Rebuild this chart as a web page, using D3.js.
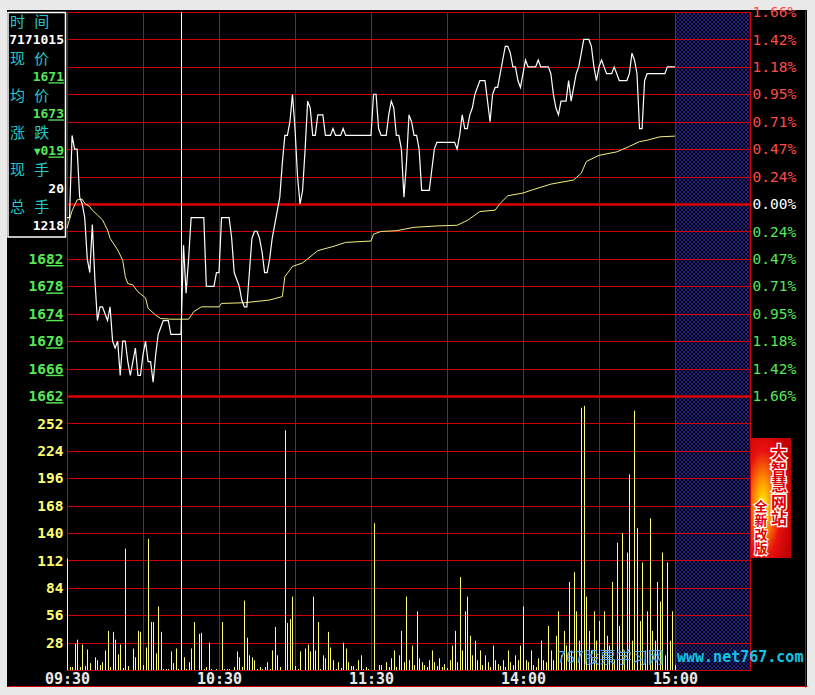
<!DOCTYPE html>
<html><head><meta charset="utf-8">
<script src="https://cdn.jsdelivr.net/npm/d3@7"></script>
<style>html,body{margin:0;padding:0;background:#e9e9e9;overflow:hidden}</style>
</head><body><svg id="c" width="815" height="695"></svg>
<script>
// ---------------- DATA ----------------
const prevClose = 1690;
const priceTicks = [1718,1714,1710,1706,1702,1698,1694,1690,1686,1682,1678,1674,1670,1666,1662];
const priceLabelTicks = [1682,1678,1674,1670,1666,1662];   // the ones not hidden by the info box
const volTicks = [252,224,196,168,140,112,84,56,28];
const gridMinutes = [0,30,60,90,120,150,180,210,240];
const timeLabelMinutes = [0,60,120,180,240];
const timeLabels = ["09:30","10:30","11:30","14:00","15:00"];
const cursorMinute = 45;
const infoLabels = ["时 间","现 价","均 价","涨 跌","现 手","总 手"];
const infoValues = ["7171015","1671","1673","019","20","1218"];
const infoKinds  = ["plain","price","price","change","plain","plain"];
const bannerMain = "大智慧网站";
const bannerSub = "全新改版";
const watermarkCN = "767股票学习网";
const watermarkURL = "www.net767.com";

// minute-by-minute last price (09:30 .. 15:00, 241 points)
const price = [
1688,1688,1700,1698,1698,1691,1690,1688,1682,1680,
1687,1679,1673,1675,1675,1674,1673,1675,1670,1669,
1670,1665,1670,1670,1667,1665,1667,1669,1665,1665,
1668,1670,1667,1667,1664,1668,1671,1672,1673,1673,
1673,1671,1671,1671,1671,1671,1684,1677,1682,1688,
1688,1688,1688,1688,1688,1678,1678,1678,1678,1680,
1680,1688,1688,1688,1688,1685,1680,1679,1678,1676,
1675,1675,1680,1685,1686,1686,1685,1683,1680,1680,
1682,1685,1687,1689,1691,1696,1700,1700,1702,1706,
1701,1694,1690,1692,1698,1705,1704,1700,1700,1703,
1703,1703,1700,1700,1700,1701,1700,1700,1700,1701,
1700,1700,1700,1700,1700,1700,1700,1700,1700,1700,
1700,1706,1706,1701,1700,1700,1700,1703,1705,1704,
1700,1700,1698,1691,1696,1703,1702,1700,1700,1698,
1692,1692,1692,1692,1695,1698,1699,1699,1699,1699,
1699,1699,1699,1699,1698,1700,1703,1701,1701,1703,
1704,1706,1707,1708,1708,1708,1705,1702,1706,1707,
1707,1709,1711,1713,1713,1712,1710,1710,1708,1707,
1709,1711,1710,1710,1710,1710,1711,1710,1710,1710,
1710,1709,1706,1704,1703,1705,1705,1705,1708,1705,
1707,1709,1710,1712,1714,1714,1714,1713,1710,1708,
1710,1711,1710,1709,1709,1709,1710,1709,1708,1708,
1708,1708,1709,1712,1711,1709,1701,1701,1708,1709,
1709,1709,1709,1709,1709,1709,1709,1710,1710,1710,
1710];

// average price line, read at its turning points
const avgMinutes = [0,2,4,6,7,9,10,12,14,16,17,20,22,23,24,26,28,31,32,35,37,41,48,50,53,60,61,70,80,82,85,86,89,93,97,99,105,110,120,121,124,130,137,146,154,158,163,169,171,174,180,184,191,200,203,205,210,217,222,226,229,234,240];
const avgValues  = [1686.5,1689,1690.6,1690.7,1690.1,1689.6,1689.1,1688.4,1687.7,1686.2,1685,1683.3,1681.8,1679.4,1678.4,1678.2,1677.2,1676.3,1674.8,1673.8,1673.3,1673.2,1673.2,1674.3,1675,1675,1675.5,1675.6,1676,1676.2,1676.5,1679.4,1680.9,1681.4,1682.6,1683.2,1683.8,1684.4,1684.6,1685.6,1686,1686.1,1686.6,1686.8,1686.9,1687.6,1688.9,1689.1,1690.1,1691.2,1691.6,1692.1,1692.9,1693.5,1694.5,1696.2,1697.1,1697.6,1698.4,1699.1,1699.3,1699.8,1699.9];

// minute volume (241 points)
const volume = [
114,3,3,27,31,3,26,4,21,7,
0,13,10,5,8,20,40,3,39,31,
16,26,2,124,4,0,22,13,40,39,
5,23,134,49,49,17,65,39,1,1,
1,19,7,22,1,30,13,1,8,22,
49,0,37,38,1,3,28,1,0,1,
0,49,1,1,1,0,3,19,13,3,
71,33,15,13,10,1,3,1,3,8,
1,20,44,15,3,0,245,48,52,75,
4,1,19,0,22,26,19,75,20,49,
1,15,12,39,23,10,1,8,2,28,
22,8,4,4,1,10,15,1,3,1,
0,150,0,5,5,0,8,3,12,20,
3,15,40,8,75,10,25,5,60,12,
8,5,3,10,20,8,4,12,3,6,
2,10,25,40,8,95,20,60,75,35,
15,30,10,20,5,15,8,3,25,10,
6,4,10,3,20,8,5,15,10,25,
65,10,8,20,5,3,12,30,10,8,
45,20,10,35,60,15,40,25,90,20,
100,60,30,268,270,75,40,20,60,30,
50,15,60,35,25,90,10,130,45,140,
20,120,200,30,265,145,50,110,20,60,
155,40,30,90,70,120,15,110,30,60,
5];

// ---------------- LAYOUT ----------------
const W = 815, H = 695;
const L = 67, R = 675, RA = 750, T = 12, MID = 396, B = 670;
const RED = "#ff4a4a", GREEN = "#55e855", YEL = "#ffff70", CYAN = "#22c8c8", GRID = "#d00000";
const NUMFONT = "'DejaVu Sans Mono', 'Liberation Mono', monospace";
const CJK = "'Noto Sans CJK SC'";

const svg = d3.select("#c");
const x = d3.scaleLinear().domain([0, 240]).range([L, R]);
const yP = d3.scaleLinear().domain([1662, 1718]).range([MID, T]);
const yV = d3.scaleLinear().domain([0, 280]).range([B, MID]);
const px = v => Math.round(v) + 0.5;

svg.append("rect").attr("width", W).attr("height", H).attr("fill", "#e9e9e9");
svg.append("rect").attr("x", 7).attr("y", 10).attr("width", 800).attr("height", 677).attr("fill", "#000");

const defs = svg.append("defs");
const pat = defs.append("pattern").attr("id", "hatch").attr("patternUnits", "userSpaceOnUse").attr("width", 4).attr("height", 4);
pat.append("path").attr("d", "M0,0L4,4M4,0L0,4").attr("stroke", "#22229a").attr("stroke-width", 0.9);
const rg = defs.append("radialGradient").attr("id", "ban").attr("cx", "0.3").attr("cy", "0.55").attr("r", "0.75");
rg.append("stop").attr("offset", "0").attr("stop-color", "#fff200");
rg.append("stop").attr("offset", "0.25").attr("stop-color", "#ff9a00");
rg.append("stop").attr("offset", "0.6").attr("stop-color", "#e81010");
rg.append("stop").attr("offset", "1").attr("stop-color", "#c00000");

svg.append("rect").attr("x", R).attr("y", T).attr("width", RA - R).attr("height", B - T).attr("fill", "url(#hatch)");

// horizontal grid
const hGrid = svg.append("g");
hGrid.selectAll("line.p").data(priceTicks).join("line").attr("class", "p")
  .attr("x1", L).attr("x2", RA).attr("y1", d => px(yP(d))).attr("y2", d => px(yP(d)))
  .attr("stroke", d => (d === prevClose || d === 1662) ? "#dc0000" : GRID)
  .attr("stroke-width", d => (d === prevClose || d === 1662) ? 2.5 : 1);
hGrid.selectAll("line.v").data(volTicks).join("line").attr("class", "v")
  .attr("x1", L).attr("x2", RA).attr("y1", d => px(yV(d))).attr("y2", d => px(yV(d)))
  .attr("stroke", GRID).attr("stroke-width", 1);
// vertical grid
svg.append("g").selectAll("line").data(gridMinutes).join("line")
  .attr("x1", d => px(x(d))).attr("x2", d => px(x(d))).attr("y1", T).attr("y2", B)
  .attr("stroke", GRID).attr("stroke-width", 1);

// frame lines
const frame = [[L, T, L, B], [RA, T, RA, B], [L, T, RA, T], [L, B, RA, B], [805, 10, 805, 687], [7, 686, 807, 686]];
svg.append("g").selectAll("line").data(frame).join("line")
  .attr("x1", d => px(d[0])).attr("y1", d => px(d[1])).attr("x2", d => px(d[2])).attr("y2", d => px(d[3]))
  .attr("stroke", GRID).attr("stroke-width", 1);

// volume bars
svg.append("g").selectAll("line").data(volume).join("line")
  .attr("x1", (d, i) => px(x(i))).attr("x2", (d, i) => px(x(i)))
  .attr("y1", yV(0)).attr("y2", d => yV(d))
  .attr("stroke", YEL).attr("stroke-width", 1);

// average line
const avgPts = avgMinutes.map((m, i) => [m, avgValues[i]]);
svg.append("path").datum(avgPts)
  .attr("d", d3.line().x(d => x(d[0])).y(d => yP(d[1])))
  .attr("fill", "none").attr("stroke", "#f4f080").attr("stroke-width", 1);

// price line
svg.append("path").datum(price)
  .attr("d", d3.line().x((d, i) => x(i)).y(d => yP(d)))
  .attr("fill", "none").attr("stroke", "#ffffff").attr("stroke-width", 1.2);

// cursor
svg.append("line").attr("x1", px(x(cursorMinute))).attr("x2", px(x(cursorMinute)))
  .attr("y1", T).attr("y2", B).attr("stroke", "#fff").attr("stroke-width", 1);

// left price labels with underlined last two digits
function underlineLast2(sel, s) {
  sel.text(null);
  sel.append("tspan").text(s.slice(0, s.length - 2));
  sel.append("tspan").attr("style", "text-decoration:underline").text(s.slice(-2));
}
const gPrice = svg.append("g").attr("transform", `translate(${L},0)`)
  .call(d3.axisLeft(yP).tickValues(priceLabelTicks).tickSize(0).tickPadding(3.5));
gPrice.select(".domain").remove();
gPrice.selectAll("text")
  .attr("font-family", NUMFONT).attr("font-weight", "bold").attr("font-size", 14.5)
  .attr("fill", d => d > prevClose ? RED : d < prevClose ? GREEN : "#fff")
  .each(function (d) { underlineLast2(d3.select(this), String(d)); });
const gVol = svg.append("g").attr("transform", `translate(${L},0)`)
  .call(d3.axisLeft(yV).tickValues(volTicks).tickSize(0).tickPadding(3.5));
gVol.select(".domain").remove();
gVol.selectAll("text")
  .attr("font-family", NUMFONT).attr("font-weight", "bold").attr("font-size", 14.5).attr("fill", YEL);

// right percent axis
const gPct = svg.append("g").attr("transform", `translate(${RA},0)`)
  .call(d3.axisRight(yP).tickValues(priceTicks).tickSize(0).tickPadding(2.5)
    .tickFormat(d => (Math.abs(d - prevClose) / prevClose * 100).toFixed(2) + "%"));
gPct.select(".domain").remove();
gPct.selectAll("text").attr("font-family", NUMFONT).attr("font-size", 14.5)
  .attr("fill", d => d > prevClose ? RED : d < prevClose ? GREEN : "#fff");

// time axis
const gTime = svg.append("g").attr("transform", `translate(0,${B})`)
  .call(d3.axisBottom(x).tickValues(timeLabelMinutes).tickSize(0).tickPadding(3.5)
    .tickFormat((d, i) => timeLabels[i]));
gTime.select(".domain").remove();
gTime.selectAll("text").attr("font-family", NUMFONT).attr("font-weight", "bold").attr("font-size", 15).attr("fill", "#e8e8e8");

// info box
svg.append("rect").attr("x", 8).attr("y", 12.5).attr("width", 57.5).attr("height", 224.5)
  .attr("fill", "#000").attr("stroke", "#fff").attr("stroke-width", 1.5);
const info = svg.append("g");
infoLabels.forEach((lab, i) => {
  info.append("text").attr("x", 10).attr("y", 21.5 + 37.1 * i).attr("dy", "0.36em")
    .attr("font-family", CJK).attr("font-size", 15).attr("letter-spacing", 3)
    .attr("fill", CYAN).text(lab);
  const t = info.append("text").attr("x", 64).attr("y", 39.5 + 37.1 * i).attr("dy", "0.36em")
    .attr("text-anchor", "end").attr("font-family", NUMFONT).attr("font-weight", "bold").attr("font-size", 13);
  const v = infoValues[i];
  if (infoKinds[i] === "plain") t.attr("fill", "#fff").text(v);
  else if (infoKinds[i] === "price") { t.attr("fill", GREEN); underlineLast2(t, v); }
  else {
    t.attr("fill", GREEN);
    t.append("tspan").attr("font-size", 11).text("▼");
    t.append("tspan").text(v.slice(0, v.length - 2));
    t.append("tspan").attr("style", "text-decoration:underline").text(v.slice(-2));
  }
});

// banner (vertical text)
svg.append("rect").attr("x", 751).attr("y", 438).attr("width", 40).attr("height", 120).attr("fill", "url(#ban)");
svg.append("text").attr("x", 779).attr("y", 444)
  .style("writing-mode", "vertical-rl").style("text-orientation", "upright")
  .attr("font-family", CJK).attr("font-weight", "bold").attr("font-size", 16).attr("letter-spacing", 0.5)
  .attr("fill", "#e00000").attr("stroke", "#fff").attr("stroke-width", 2.6).attr("paint-order", "stroke")
  .text(bannerMain);
svg.append("text").attr("x", 761).attr("y", 500)
  .style("writing-mode", "vertical-rl").style("text-orientation", "upright")
  .attr("font-family", CJK).attr("font-weight", "bold").attr("font-size", 13).attr("letter-spacing", 1)
  .attr("fill", "#e00000").attr("stroke", "#fff").attr("stroke-width", 2.2).attr("paint-order", "stroke")
  .text(bannerSub);

// watermark
svg.append("text").attr("x", 557).attr("y", 657).attr("dy", "0.36em")
  .attr("font-family", CJK).attr("font-size", 16).attr("fill", "#5aaaf0").text(watermarkCN);
svg.append("text").attr("x", 677).attr("y", 657).attr("dy", "0.36em")
  .attr("font-family", NUMFONT).attr("font-weight", "bold").attr("font-size", 15).attr("fill", "#10c4e4").text(watermarkURL);
</script></body></html>
